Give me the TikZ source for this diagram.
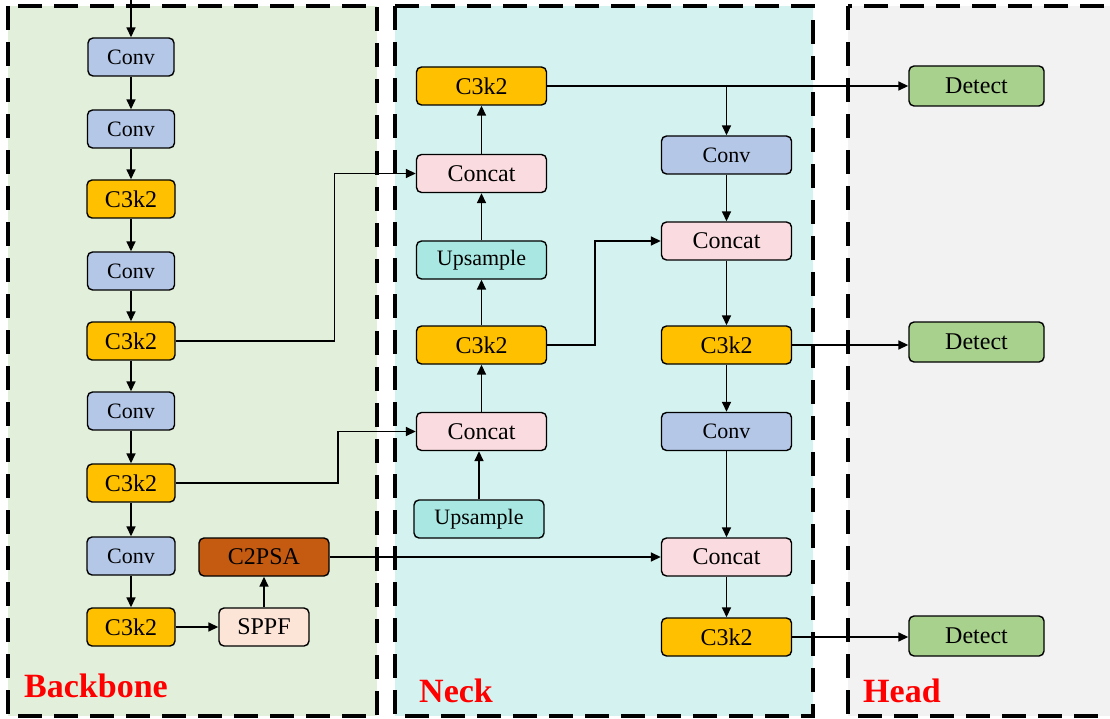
\documentclass[tikz,border=0pt]{standalone}
\usepackage{fontspec}
\setmainfont{Liberation Serif}
\usetikzlibrary{arrows.meta,calc}
\definecolor{cconv}{HTML}{B4C7E7}
\definecolor{cc3}{HTML}{FFC000}
\definecolor{ccat}{HTML}{FADBE0}
\definecolor{cup}{HTML}{A9E8E2}
\definecolor{cpsa}{HTML}{C55A11}
\definecolor{csppf}{HTML}{FCE4D6}
\definecolor{cdet}{HTML}{A9D18E}
\definecolor{bgbb}{HTML}{E2EFDA}
\definecolor{bgneck}{HTML}{D4F2EF}
\definecolor{bghead}{HTML}{F2F2F2}
\tikzset{
  blk/.style={draw=black, line width=1.4pt, rounded corners=5pt, inner sep=0pt,
    minimum height=38pt, font=\fontsize{24}{28}\selectfont},
  convb/.style={blk, fill=cconv, font=\fontsize{22}{26}\selectfont},
  c3b/.style={blk, fill=cc3},
  catb/.style={blk, fill=ccat},
  upb/.style={blk, fill=cup, font=\fontsize{22}{26}\selectfont},
  psab/.style={blk, fill=cpsa},
  sppfb/.style={blk, fill=csppf},
  detb/.style={blk, fill=cdet, minimum height=40pt, minimum width=135pt},
  panel/.style={line width=4pt, dash pattern=on 24pt off 12pt},
  arr/.style={line width=1.6pt, -{Triangle[length=10pt,width=9pt]}},
  lbl/.style={text=red, font=\fontsize{34}{38}\selectfont\bfseries, anchor=base west, inner sep=0pt}
}
\begin{document}
\begin{tikzpicture}[x=1pt,y=-1pt]
\useasboundingbox (0,0) rectangle (1110,719);
\clip (0,0) rectangle (1110,719);
% panels
\fill[bgbb] (8,6) rectangle (377,716);
\draw[panel] (8,6) rectangle (377,716);
\fill[bgneck] (395,6) rectangle (813,716);
\draw[panel] (395,6) rectangle (813,716);
\fill[bghead] (848,6) rectangle (1130,716);
\draw[panel] (848,6) rectangle (1130,716);
\node[lbl] (lb) at (24,697) {Backbone};
\node[lbl] (ln) at (419,702) {Neck};
\node[lbl] (lh) at (863,702) {Head};
% backbone
\coordinate (in) at (131,0);
\node[convb, minimum width=86pt] (b1) at (131,57) {Conv};
\node[convb, minimum width=87pt] (b2) at (131,129) {Conv};
\node[c3b, minimum width=88pt] (b3) at (131,199) {C3k2};
\node[convb, minimum width=87pt] (b4) at (131,271) {Conv};
\node[c3b, minimum width=88pt] (b5) at (131,341) {C3k2};
\node[convb, minimum width=87pt] (b6) at (131,411) {Conv};
\node[c3b, minimum width=88pt] (b7) at (131,483) {C3k2};
\node[convb, minimum width=88pt] (b8) at (131,556) {Conv};
\node[c3b, minimum width=88pt] (b9) at (131,627) {C3k2};
\node[sppfb, minimum width=90pt] (sppf) at (264,627) {SPPF};
\node[psab, minimum width=130pt] (psa) at (264,557) {C2PSA};
% neck left
\node[c3b, minimum width=130pt] (n1) at (481.5,86) {C3k2};
\node[catb, minimum width=130pt] (n2) at (481.5,173.5) {Concat};
\node[upb, minimum width=130pt] (n3) at (481.5,260) {Upsample};
\node[c3b, minimum width=130pt] (n4) at (481.5,345) {C3k2};
\node[catb, minimum width=130pt] (n5) at (481.5,431.5) {Concat};
\node[upb, minimum width=130pt] (n6) at (479,519) {Upsample};
% neck right
\node[convb, minimum width=130pt] (r1) at (726.5,155) {Conv};
\node[catb, minimum width=130pt] (r2) at (726.5,241) {Concat};
\node[c3b, minimum width=130pt] (r3) at (726.5,345) {C3k2};
\node[convb, minimum width=130pt] (r4) at (726.5,431.5) {Conv};
\node[catb, minimum width=130pt] (r5) at (726.5,557) {Concat};
\node[c3b, minimum width=130pt] (r6) at (726.5,637) {C3k2};
% head
\node[detb] (d1) at (976.5,86) {Detect};
\node[detb] (d2) at (976.5,342) {Detect};
\node[detb] (d3) at (976.5,636) {Detect};
% backbone arrows
\draw[arr] (in) -- (b1);
\draw[arr] (b1) -- (b2);
\draw[arr] (b2) -- (b3);
\draw[arr] (b3) -- (b4);
\draw[arr] (b4) -- (b5);
\draw[arr] (b5) -- (b6);
\draw[arr] (b6) -- (b7);
\draw[arr] (b7) -- (b8);
\draw[arr] (b8) -- (b9);
\draw[arr] (b9) -- (sppf);
\draw[arr] (sppf) -- (psa);
% cross connections
\draw[arr] (b5.east) -- (334.5,341) |- (n2.west);
\draw[arr] (b7.east) -- (338,483) |- (n5.west);
\draw[arr] (psa.east) -- (r5.west);
% neck left
\draw[arr] (n6.north) -- (n6.north |- n5.south);
\draw[arr] (n5) -- (n4);
\draw[arr] (n4) -- (n3);
\draw[arr] (n3) -- (n2);
\draw[arr] (n2) -- (n1);
\draw[arr] (n4.east) -- (595,345) |- (r2.west);
% top to detect and branch
\draw[arr] (n1.east) -- (d1.west);
\draw[arr] (n1.east -| r1.north) -- (r1.north);
% neck right chain
\draw[arr] (r1) -- (r2);
\draw[arr] (r2) -- (r3);
\draw[arr] (r3) -- (r4);
\draw[arr] (r4) -- (r5);
\draw[arr] (r5) -- (r6);
\draw[arr] (r3.east) -- (d2.west |- r3.east);
\draw[arr] (r6.east) -- (d3.west |- r6.east);
\end{tikzpicture}
\end{document}
